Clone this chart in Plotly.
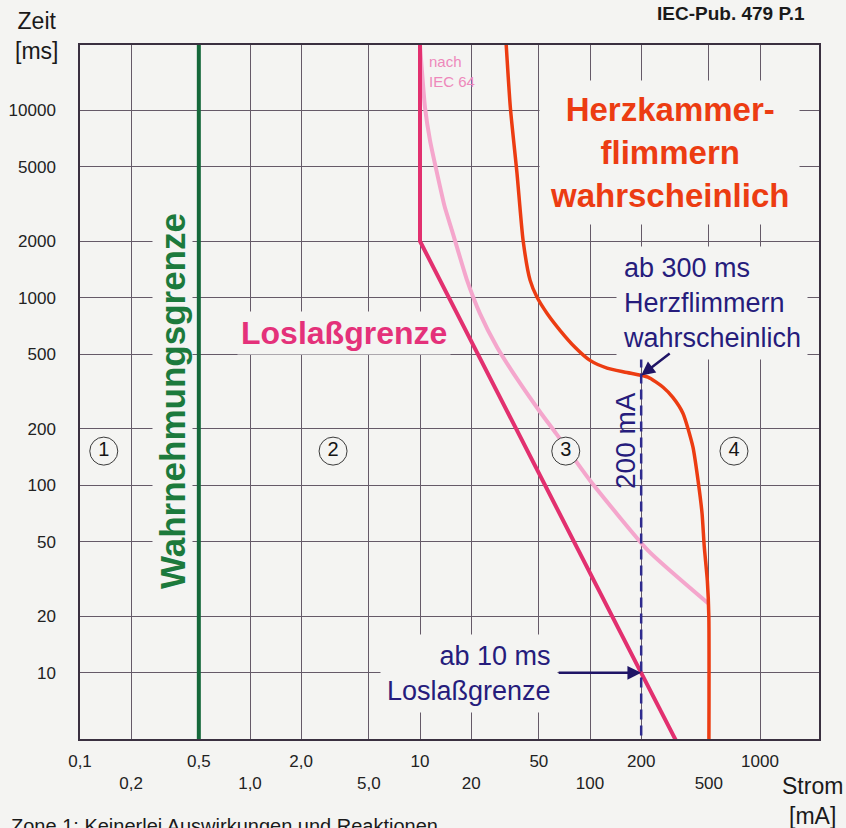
import plotly.graph_objects as go
import math

# ---------------- data ----------------
# current in mA, time in ms
perception_x = [0.5, 0.5]
perception_y = [3, 30000]

letgo_x = [10, 10, 200, 336]
letgo_y = [30000, 2000, 10, 4]

iec64_x = [10, 10.7, 11.45, 12.6, 14.0, 15.4, 18.9, 22.5, 28.4, 37.7, 51.5, 63.1, 100, 219, 495]
iec64_y = [22100, 10330, 6900, 4600, 3030, 2290, 1240, 825, 544, 363, 242, 189, 106, 45, 23.5]

fibr_x = [31.5, 34, 37.2, 40.4, 44.4, 48.8, 55.8, 66.6, 81.6, 100, 126, 165, 219, 269, 307, 352, 403, 432, 456, 470, 490, 500, 500]
fibr_y = [30000, 10300, 4600, 2020, 1240, 1004, 826, 670, 544, 463, 421, 399, 377, 333, 294, 242, 160, 106, 71, 47, 31, 20, 3]

marker_x = [200, 200]
marker_y = [480, 3]

point_300 = (200, 385)
point_10 = (200, 10)

zone_labels = ["1", "2", "3", "4"]
zone_x = [0.138, 3.08, 72, 703]
zone_y = [152, 152, 152, 152]

x_tickvals = [0.1, 0.2, 0.5, 1, 2, 5, 10, 20, 50, 100, 200, 500, 1000]
x_ticktext = ["0,1", "<br>0,2", "0,5", "<br>1,0", "2,0", "<br>5,0", "10", "<br>20",
              "50", "<br>100", "200", "<br>500", "1000"]
y_tickvals = [10, 20, 50, 100, 200, 500, 1000, 2000, 5000, 10000]
y_ticktext = [str(v) for v in y_tickvals]

# ---------------- styling ----------------
W, H = 846, 828
ML, MR, MT, MB = 80, 27, 45, 89
PW, PH = W - ML - MR, H - MT - MB
BG = "#f4f4f2"
GRID = "#655a68"
NAVY = "#261c7c"
GREEN = "#15683a"
MAGENTA = "#e2306f"
PINK = "#f4a6cc"
RED = "#ec3c12"
FONT = "Liberation Sans, Arial, sans-serif"


def px(xp):
    return (xp - ML) / PW


def py(yp):
    return (MT + PH - yp) / PH


fig = go.Figure()

fig.add_trace(go.Scatter(x=perception_x, y=perception_y, mode="lines",
                         line=dict(color=GREEN, width=4), hoverinfo="skip"))
fig.add_trace(go.Scatter(x=iec64_x, y=iec64_y, mode="lines",
                         line=dict(color=PINK, width=4, shape="spline", smoothing=0.5),
                         hoverinfo="skip"))
fig.add_trace(go.Scatter(x=letgo_x, y=letgo_y, mode="lines",
                         line=dict(color=MAGENTA, width=4), hoverinfo="skip"))
fig.add_trace(go.Scatter(x=fibr_x, y=fibr_y, mode="lines",
                         line=dict(color=RED, width=3.5, shape="spline", smoothing=0.6),
                         hoverinfo="skip"))
fig.add_trace(go.Scatter(x=marker_x, y=marker_y, mode="lines",
                         line=dict(color="#2e2a8e", width=2.5, dash="10px,6px"),
                         hoverinfo="skip"))
fig.add_trace(go.Scatter(x=zone_x, y=zone_y, mode="markers+text", text=zone_labels,
                         textposition="middle center",
                         textfont=dict(family=FONT, size=20, color="#151515"),
                         marker=dict(symbol="circle", size=28, color=BG,
                                     line=dict(color="#3a3a3a", width=1)),
                         hoverinfo="skip"))

ann = []


def text(t, xp, yp, size, color, bold=False, angle=0, xanchor="center",
         align="center", bg=None, pad=1, yanchor="middle"):
    ann.append(dict(text=("<b>%s</b>" % t) if bold else t, xref="paper", yref="paper",
                    x=px(xp), y=py(yp), xanchor=xanchor, yanchor=yanchor,
                    align=align, textangle=angle, showarrow=False,
                    font=dict(family=FONT, size=size, color=color),
                    bgcolor=bg, borderpad=pad))


text("Wahrnehmungsgrenze", 172, 401, 35, "#1c7a3c", bold=True, angle=-90, bg=BG, pad=0)
text("Loslaßgrenze", 344, 333, 32, "#e4317a", bold=True, bg=BG, pad=3)
text("Herzkammer-<br>flimmern<br>wahrscheinlich", 669, 153, 33, RED, bold=True, bg=BG, pad=10)
text("nach<br>IEC 64", 427, 71, 15, "#ee88bb", xanchor="left", align="left")
text("ab 300 ms<br>Herzflimmern<br>wahrscheinlich", 616, 303, 27, NAVY,
     xanchor="left", align="left", bg=BG, pad=6)
text("200 mA", 625, 441, 28, NAVY, angle=-90)
text("ab 10 ms<br>Loslaßgrenze", 558, 673, 27, NAVY, xanchor="right", align="right",
     bg=BG, pad=6)
text("IEC-Pub. 479 P.1", 731, 14, 19, "#1a1a1a", bold=True)
text("Zeit<br>[ms]", 36, 36, 23, "#1a1a1a")
text("Strom<br>[mA]", 812, 801, 23, "#1a1a1a")
text("Zone 1: Keinerlei Auswirkungen und Reaktionen", 10, 814, 20, "#1a1a1a",
     xanchor="left", align="left", yanchor="top", pad=0)

# arrows
ann.append(dict(x=math.log10(point_300[0]), y=math.log10(point_300[1]), xref="x", yref="y",
                text="", showarrow=True, arrowhead=2, arrowsize=1.1, arrowwidth=2.5,
                arrowcolor="#1f1466", ax=30, ay=-23))
ann.append(dict(x=math.log10(point_10[0]), y=math.log10(point_10[1]), xref="x", yref="y",
                text="", showarrow=True, arrowhead=2, arrowsize=1.1, arrowwidth=2.5,
                arrowcolor="#1f1466", ax=-84, ay=0))

fig.update_layout(
    width=W, height=H, autosize=False,
    margin=dict(l=ML, r=MR, t=MT, b=MB),
    paper_bgcolor=BG, plot_bgcolor=BG,
    showlegend=False,
    annotations=ann,
    xaxis=dict(type="log", range=[-1, 3.347], tickvals=x_tickvals, ticktext=x_ticktext,
               showgrid=True, gridcolor=GRID, gridwidth=1, zeroline=False,
               showline=True, mirror=True, linecolor="#3a3040", linewidth=1.5,
               ticks="", ticklabelstandoff=6, automargin=False,
               tickfont=dict(family=FONT, size=17, color="#222")),
    yaxis=dict(type="log", range=[0.647, 4.347], tickvals=y_tickvals, ticktext=y_ticktext,
               showgrid=True, gridcolor=GRID, gridwidth=1, zeroline=False,
               showline=True, mirror=True, linecolor="#3a3040", linewidth=1.5,
               ticks="", ticklabelstandoff=19, automargin=False,
               tickfont=dict(family=FONT, size=17, color="#222")),
)

fig.write_html("out.html", config={"displayModeBar": False},
               post_script="document.body.style.margin='0px';document.body.style.padding='0px';")
